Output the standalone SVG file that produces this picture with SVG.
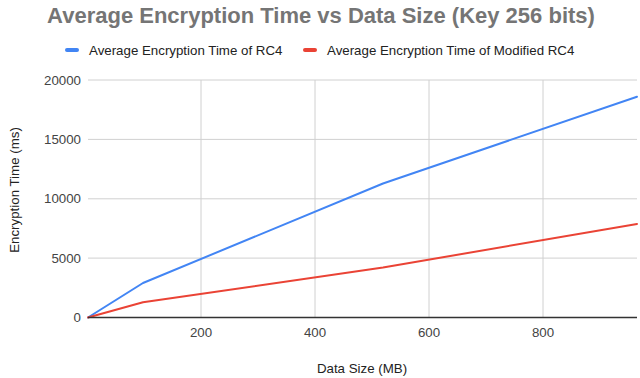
<svg xmlns="http://www.w3.org/2000/svg" width="640" height="378" viewBox="0 0 640 378">
  <style>
    text { font-family: "Liberation Sans", Arial, sans-serif; }
    .title { font-size: 22px; font-weight: bold; fill: #757575; }
    .legend { font-size: 13.3px; fill: #222; }
    .tick { font-size: 13.3px; fill: #444; }
    .axis-title { font-size: 13.3px; fill: #222; }
    .grid { stroke: #d0d0d0; stroke-width: 1; fill: none; }
    .baseline { stroke: #333; stroke-width: 1.5; }
    .series { fill: none; stroke-width: 2; stroke-linejoin: round; stroke-linecap: round; }
  </style>

  <rect width="640" height="378" fill="#ffffff"/>

  <text class="title" x="321" y="23" text-anchor="middle">Average Encryption Time vs Data Size (Key 256 bits)</text>

  <!-- legend -->
  <g id="legend">
    <rect x="65" y="48" width="14" height="4" rx="2" fill="#4285F4"/>
    <text class="legend" x="89" y="54.5">Average Encryption Time of RC4</text>
    <rect x="303" y="48" width="14" height="4" rx="2" fill="#EA4335"/>
    <text class="legend" x="327" y="54.5">Average Encryption Time of Modified RC4</text>
  </g>

  <!-- grid -->
  <g id="grid">
    <line class="grid" x1="88" y1="80" x2="637" y2="80"/>
    <line class="grid" x1="88" y1="139.4" x2="637" y2="139.4"/>
    <line class="grid" x1="88" y1="198.8" x2="637" y2="198.8"/>
    <line class="grid" x1="88" y1="258.1" x2="637" y2="258.1"/>
    <line class="grid" x1="201" y1="80" x2="201" y2="317.5"/>
    <line class="grid" x1="315" y1="80" x2="315" y2="317.5"/>
    <line class="grid" x1="429" y1="80" x2="429" y2="317.5"/>
    <line class="grid" x1="543" y1="80" x2="543" y2="317.5"/>
  </g>

  <!-- axis labels -->
  <g id="y-axis">
    <text class="tick" x="81" y="84.5" text-anchor="end">20000</text>
    <text class="tick" x="81" y="143.9" text-anchor="end">15000</text>
    <text class="tick" x="81" y="203.3" text-anchor="end">10000</text>
    <text class="tick" x="81" y="262.6" text-anchor="end">5000</text>
    <text class="tick" x="81" y="322" text-anchor="end">0</text>
    <text class="axis-title" transform="translate(19,190) rotate(-90)" text-anchor="middle">Encryption Time (ms)</text>
  </g>
  <g id="x-axis">
    <text class="tick" x="201" y="337" text-anchor="middle">200</text>
    <text class="tick" x="315" y="337" text-anchor="middle">400</text>
    <text class="tick" x="429" y="337" text-anchor="middle">600</text>
    <text class="tick" x="543" y="337" text-anchor="middle">800</text>
    <text class="axis-title" x="362" y="373" text-anchor="middle">Data Size (MB)</text>
  </g>

  <!-- data series -->
  <g id="series">
    <polyline id="rc4" class="series" stroke="#4285F4" points="88,317.5 143,283 383,183.5 637,96.7"/>
    <polyline id="modified-rc4" class="series" stroke="#EA4335" points="88,317.5 143,302.3 383,267.5 637,224"/>
  </g>

  <line class="baseline" x1="88" y1="317.5" x2="637" y2="317.5"/>
</svg>
